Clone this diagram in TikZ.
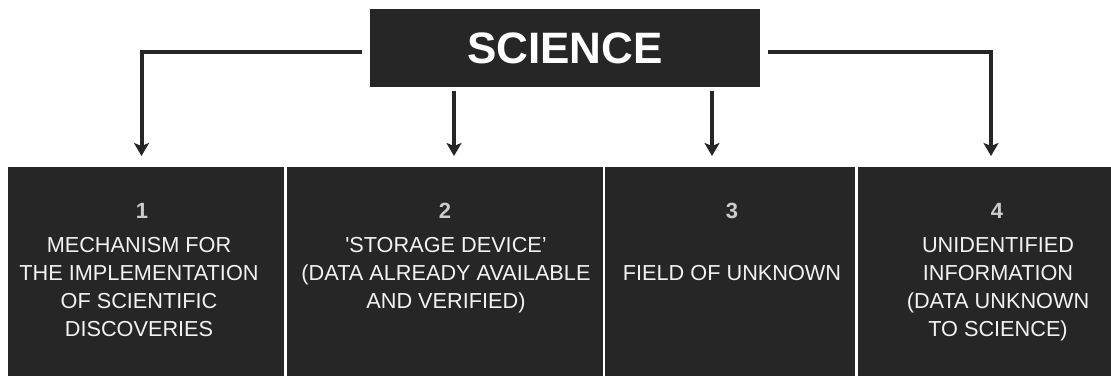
\documentclass[tikz,border=0pt]{standalone}
\usepackage{fontspec}
\setmainfont{Liberation Sans}
\newfontfamily\straightquote{Liberation Sans}[Ligatures=TeXOff]
\usetikzlibrary{arrows.meta}
\definecolor{panel}{HTML}{262626}
\definecolor{numgrey}{HTML}{CCCCCC}
\definecolor{bodytext}{HTML}{F2F2F2}
\tikzset{
  panelbox/.style={fill=panel, draw=none, inner sep=0pt, anchor=north west},
  heading/.style={panelbox, anchor=center},
  numlabel/.style={inner sep=0pt, anchor=base, text=numgrey,
    font=\fontsize{22}{26}\selectfont\bfseries},
  % multi-line labels are placed by the baseline of their last line
  bodylabel/.style={inner sep=0pt, anchor=base, align=center, text=bodytext,
    font=\fontsize{21.7}{28}\selectfont},
  link/.style={draw=panel, line width=4pt,
    -{Stealth[length=13pt, width=15pt, inset=3pt]}},
}
\begin{document}
\begin{tikzpicture}[x=1pt, y=-1pt]
  \useasboundingbox (0,0) rectangle (1111,376);

  % title block
  \node[heading, minimum width=390pt, minimum height=78pt] (sci) at (565,48) {};
  \node[text=white, inner sep=0pt, anchor=base,
        font=\fontsize{44}{50}\selectfont\bfseries] (scitext) at (565,63) {SCIENCE};

  % four panels along the bottom
  \node[panelbox, minimum width=276pt, minimum height=209pt] (p1) at (8,167) {};
  \node[panelbox, minimum width=316pt, minimum height=209pt] (p2) at (287,167) {};
  \node[panelbox, minimum width=250pt, minimum height=209pt] (p3) at (605,167) {};
  \node[panelbox, minimum width=253pt, minimum height=209pt] (p4) at (858,167) {};

  % arrow tips above the panels
  \coordinate (t1) at (141.5,156);
  \coordinate (t2) at (454,156);
  \coordinate (t3) at (712,156);
  \coordinate (t4) at (991,156);

  % connectors
  \draw[link] ([xshift=-8pt, yshift=-3.5pt]sci.west) -| (t1);
  \draw[link] ([xshift=8pt, yshift=-3.5pt]sci.east) -| (t4);
  \draw[link] ([yshift=-4pt]sci.south -| t2) -- (t2);
  \draw[link] ([yshift=-4pt]sci.south -| t3) -- (t3);

  % panel numbers
  \node[numlabel] (n1) at (142,218) {1};
  \node[numlabel] (n2) at (445,218) {2};
  \node[numlabel] (n3) at (732,218) {3};
  \node[numlabel] (n4) at (997,218) {4};

  % panel texts
  \node[bodylabel] (b1) at (139,336.5)
    {MECHANISM FOR\\THE IMPLEMENTATION\\OF SCIENTIFIC\\DISCOVERIES};
  \node[bodylabel] (b2) at (446,308.5)
    {{\straightquote'}STORAGE DEVICE'\\(DATA ALREADY AVAILABLE\\AND VERIFIED)};
  \node[bodylabel] (b3) at (732,280.5)
    {FIELD OF UNKNOWN};
  \node[bodylabel] (b4) at (998,336.5)
    {UNIDENTIFIED\\INFORMATION\\(DATA UNKNOWN\\TO SCIENCE)};
\end{tikzpicture}
\end{document}
